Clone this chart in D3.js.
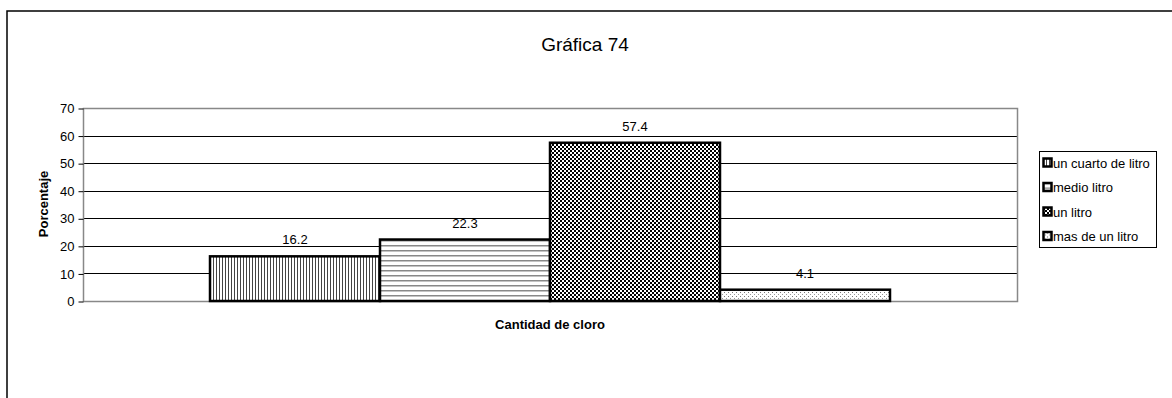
<!DOCTYPE html>
<html>
<head>
<meta charset="utf-8">
<script src="https://cdn.jsdelivr.net/npm/d3@7"></script>
<style>
  body { margin: 0; background: #fff; }
  text { font-family: "Liberation Sans", Arial, sans-serif; }
</style>
</head>
<body>
<div id="viz"></div>
<script>
// chart data
var categories = ["un cuarto de litro", "medio litro", "un litro", "mas de un litro"];
var values = [16.2, 22.3, 57.4, 4.1];
var yTicks = [0, 10, 20, 30, 40, 50, 60, 70];
var patternIds = ["pVert", "pHoriz", "pCheck", "pDots"];

var width = 1172, height = 398;
var plot = {left: 83, right: 1017, top: 108, bottom: 301};

var svg = d3.select("#viz")
  .append("svg")
  .attr("width", width)
  .attr("height", height);

// patterns
var defs = svg.append("defs");

var pv = defs.append("pattern").attr("id", "pVert")
  .attr("patternUnits", "userSpaceOnUse").attr("width", 3).attr("height", 3);
pv.append("rect").attr("width", 3).attr("height", 3).attr("fill", "#fff");
pv.append("rect").attr("x", 0).attr("width", 1).attr("height", 3).attr("fill", "#444");

var ph = defs.append("pattern").attr("id", "pHoriz")
  .attr("patternUnits", "userSpaceOnUse").attr("width", 5).attr("height", 5);
ph.append("rect").attr("width", 5).attr("height", 5).attr("fill", "#fff");
ph.append("rect").attr("y", 0).attr("width", 5).attr("height", 1.5).attr("fill", "#888");

var pc = defs.append("pattern").attr("id", "pCheck")
  .attr("patternUnits", "userSpaceOnUse").attr("width", 4).attr("height", 4);
pc.append("rect").attr("width", 4).attr("height", 4).attr("fill", "#fff");
pc.append("rect").attr("width", 2).attr("height", 2).attr("fill", "#000");
pc.append("rect").attr("x", 2).attr("y", 2).attr("width", 2).attr("height", 2).attr("fill", "#000");

var pd = defs.append("pattern").attr("id", "pDots")
  .attr("patternUnits", "userSpaceOnUse").attr("width", 4).attr("height", 4);
pd.append("rect").attr("width", 4).attr("height", 4).attr("fill", "#fff");
pd.append("rect").attr("width", 1).attr("height", 1).attr("fill", "#777");
pd.append("rect").attr("x", 2).attr("y", 2).attr("width", 1).attr("height", 1).attr("fill", "#999");

// outer frame (top and left)
svg.append("path")
  .attr("d", "M7," + height + "V11H" + width)
  .attr("fill", "none")
  .attr("stroke", "#000")
  .attr("stroke-width", 1.5);

// title
svg.append("text")
  .attr("x", 585).attr("y", 51)
  .attr("text-anchor", "middle")
  .style("font-size", "19px")
  .text("Gráfica 74");

// scales
var yScale = d3.scaleLinear().domain([0, 70]).range([plot.bottom, plot.top]);
var groupLeft = 210, groupRight = 890;
var xScale = d3.scaleBand().domain(categories).range([groupLeft, groupRight]).padding(0);

// gridlines
svg.append("g")
  .selectAll("line")
  .data(yTicks.filter(d => d > 0 && d < 70))
  .enter().append("line")
  .attr("x1", plot.left).attr("x2", plot.right)
  .attr("y1", d => Math.round(yScale(d)) + 0.5)
  .attr("y2", d => Math.round(yScale(d)) + 0.5)
  .attr("stroke", "#000")
  .attr("stroke-width", 1);

// plot area border (gray)
svg.append("rect")
  .attr("x", plot.left + 0.5).attr("y", Math.round(yScale(70)) + 0.5)
  .attr("width", plot.right - plot.left)
  .attr("height", Math.round(yScale(0)) - Math.round(yScale(70)))
  .attr("fill", "none")
  .attr("stroke", "#888")
  .attr("stroke-width", 1.5);

// y-axis
var yAxis = d3.axisLeft(yScale).tickValues(yTicks).tickSize(5).tickSizeOuter(0);
var gy = svg.append("g")
  .attr("transform", "translate(" + (plot.left + 0.5) + ",0.5)")
  .call(yAxis);
gy.select(".domain").remove();
gy.selectAll(".tick line").attr("stroke", "#000");
gy.selectAll(".tick text")
  .attr("x", -9)
  .style("font-size", "13px")
  .style("font-family", "Liberation Sans, Arial, sans-serif")
  .attr("fill", "#000");

// bars
svg.append("g")
  .selectAll("rect")
  .data(values)
  .enter().append("rect")
  .attr("x", (d, i) => xScale(categories[i]))
  .attr("y", d => yScale(d))
  .attr("width", xScale.bandwidth())
  .attr("height", d => yScale(0) - yScale(d))
  .attr("fill", (d, i) => "url(#" + patternIds[i] + ")")
  .attr("stroke", "#000")
  .attr("stroke-width", 2.5);

// value labels
svg.append("g")
  .selectAll("text")
  .data(values)
  .enter().append("text")
  .attr("x", (d, i) => xScale(categories[i]) + xScale.bandwidth() / 2)
  .attr("y", d => yScale(d) - 12)
  .attr("text-anchor", "middle")
  .style("font-size", "13px")
  .text(d => d);

// axis titles
svg.append("text")
  .attr("x", 550).attr("y", 329)
  .attr("text-anchor", "middle")
  .style("font-size", "13px")
  .style("font-weight", "bold")
  .text("Cantidad de cloro");

svg.append("text")
  .attr("transform", "translate(48,204) rotate(-90)")
  .attr("text-anchor", "middle")
  .style("font-size", "13px")
  .style("font-weight", "bold")
  .text("Porcentaje");

// legend
var legend = svg.append("g");
legend.append("rect")
  .attr("x", 1039.5).attr("y", 151.5)
  .attr("width", 117).attr("height", 96)
  .attr("fill", "#fff")
  .attr("stroke", "#000")
  .attr("stroke-width", 1);

var items = legend.selectAll(".item")
  .data(categories)
  .enter().append("g")
  .attr("class", "item")
  .attr("transform", (d, i) => "translate(1043," + (163 + i * 24.5) + ")");

items.append("rect")
  .attr("x", 0.5).attr("y", -4.5)
  .attr("width", 8).attr("height", 8)
  .attr("fill", (d, i) => "url(#" + patternIds[i] + ")")
  .attr("stroke", "#000")
  .attr("stroke-width", 2.5);

items.append("text")
  .attr("x", 10).attr("y", 4.5)
  .style("font-size", "13px")
  .text(d => d);
</script>
</body>
</html>
